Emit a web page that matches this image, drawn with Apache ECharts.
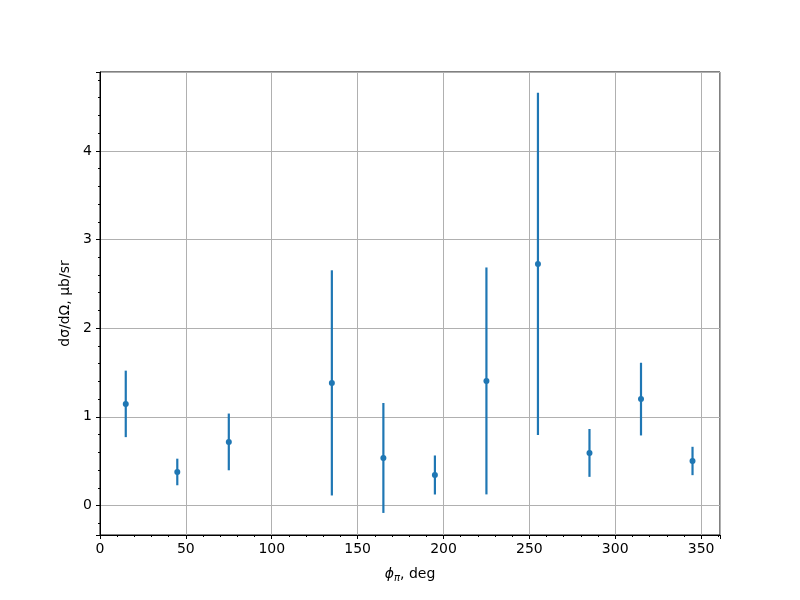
<!DOCTYPE html>
<html><head><meta charset="utf-8">
<script src="https://cdn.jsdelivr.net/npm/echarts@6/dist/echarts.min.js"></script>
<style>html,body{margin:0;padding:0;background:#fff}#c{width:800px;height:600px}</style>
</head><body><div id="c"></div>
<script>
const phi = [15, 45, 75, 135, 165, 195, 225, 255, 285, 315, 345];
const xsec = [1.146, 0.378, 0.717, 1.383, 0.536, 0.344, 1.405, 2.725, 0.593, 1.200, 0.502];
const err = [0.375, 0.15, 0.32, 1.27, 0.62, 0.22, 1.28, 1.93, 0.27, 0.41, 0.16];
const xTicks = [0, 50, 100, 150, 200, 250, 300, 350];
const yTicks = [0, 1, 2, 3, 4];

const color = '#1f77b4';
const font = 'DejaVu Sans';
const chart = echarts.init(document.getElementById('c'));
const errData = phi.map((p, i) => [p, xsec[i] - err[i], xsec[i] + err[i]]);
chart.setOption({
  animation: false,
  grid: {left: 100, right: 80, top: 72, bottom: 65, show: true, borderColor: '#000', borderWidth: 1},
  xAxis: {
    type: 'value', min: 0, max: 361, interval: 50,
    name: '{i|ϕ}{s|π}{n|, deg}', nameLocation: 'middle', nameGap: 30,
    nameTextStyle: {rich: {
      i: {fontFamily: font, fontSize: 14, fontStyle: 'italic', color: '#000'},
      s: {fontFamily: font, fontSize: 10, fontStyle: 'italic', color: '#000', verticalAlign: 'bottom', padding: [8, 0, 0, 0]},
      n: {fontFamily: font, fontSize: 14, color: '#000'}
    }},
    axisLine: {show: true, onZero: false, lineStyle: {color: '#000'}},
    axisTick: {show: true, length: 4, lineStyle: {color: '#000'}},
    minorTick: {show: true, splitNumber: 5, length: 2, lineStyle: {color: '#000'}},
    axisLabel: {color: '#000', fontFamily: font, fontSize: 14, margin: 7,
      formatter: v => xTicks.includes(v) ? String(v) : ''},
    splitLine: {show: true, lineStyle: {color: '#b0b0b0', width: 1}}
  },
  yAxis: {
    type: 'value', min: -0.333, max: 4.89, splitNumber: 5,
    name: 'dσ/dΩ, μb/sr', nameLocation: 'middle', nameGap: 27,
    nameTextStyle: {fontFamily: font, fontSize: 14, color: '#000'},
    axisLine: {show: true, onZero: false, lineStyle: {color: '#000'}},
    axisTick: {show: true, length: 4, lineStyle: {color: '#000'}},
    minorTick: {show: true, splitNumber: 5, length: 2, lineStyle: {color: '#000'}},
    axisLabel: {color: '#000', fontFamily: font, fontSize: 14, margin: 8,
      formatter: v => yTicks.includes(v) ? String(v) : ''},
    splitLine: {show: true, lineStyle: {color: '#b0b0b0', width: 1}}
  },
  series: [
    {
      type: 'custom',
      data: errData,
      encode: {x: 0, y: [1, 2]},
      renderItem: (params, api) => {
        const lo = api.coord([api.value(0), api.value(1)]);
        const hi = api.coord([api.value(0), api.value(2)]);
        return {type: 'line', shape: {x1: lo[0], y1: lo[1], x2: hi[0], y2: hi[1]},
          style: {stroke: color, lineWidth: 2.2}};
      },
      z: 3
    },
    {
      type: 'scatter',
      data: phi.map((p, i) => [p, xsec[i]]),
      symbol: 'circle', symbolSize: 6,
      itemStyle: {color: color, opacity: 1},
      z: 4
    }
  ]
});
</script></body></html>
